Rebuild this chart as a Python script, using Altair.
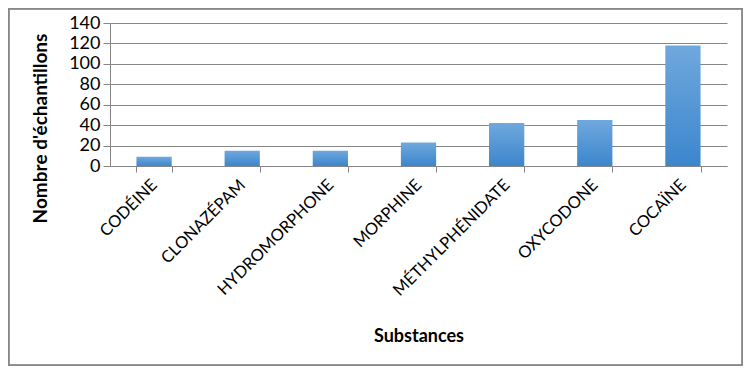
import altair as alt
import pandas as pd

substances = ["CODÉINE", "CLONAZÉPAM", "HYDROMORPHONE", "MORPHINE",
              "MÉTHYLPHÉNIDATE", "OXYCODONE", "COCAÏNE"]
counts = [9, 15, 15, 23, 42, 45, 118]

df = pd.DataFrame({"substance": substances, "n": counts})

FONT = "Lato"
GRID = "#868686"

grad = alt.Gradient(
    gradient="linear",
    stops=[alt.GradientStop(color="#6FA8DD", offset=0),
           alt.GradientStop(color="#3C86CD", offset=1)],
    x1=0, x2=0, y1=0, y2=1,
)

bars = alt.Chart(df).mark_bar(color=grad).encode(
    x=alt.X("substance:N", sort=substances,
            scale=alt.Scale(paddingInner=0.6, paddingOuter=0.3),
            axis=alt.Axis(title="Substances", labelAngle=-45, labelAlign="right",
                          labelBaseline="middle", labelPadding=10,
                          tickBand="extent", tickSize=6, tickColor=GRID,
                          domainColor=GRID, labelFont=FONT, labelFontSize=16.5,
                          labelColor="#000", titleFont=FONT, titleFontSize=18,
                          titleFontWeight="bold", titleColor="#000",
                          titleY=170, titleBaseline="middle", grid=False)),
    y=alt.Y("n:Q", scale=alt.Scale(domain=[0, 140], nice=False),
            axis=alt.Axis(title="Nombre d'échantillons", values=list(range(0, 141, 20)),
                          tickSize=7, tickColor=GRID, domainColor=GRID,
                          gridColor=GRID, labelFont=FONT, labelFontSize=18,
                          labelColor="#000", labelPadding=3,
                          titleFont=FONT, titleFontSize=19, titleFontWeight="bold",
                          titleColor="#000", titleX=-70, titleY=105,
                          titleAngle=270, titleBaseline="middle", titleAlign="center")),
)

frame = alt.Chart(df).mark_rect(fill=None, stroke="#888888", strokeWidth=1.5).encode(
    x=alt.value(-101.5), x2=alt.value(632.5), y=alt.value(-14.5), y2=alt.value(342.5)
)

chart = alt.layer(bars, frame).properties(
    width=617, height=143,
    autosize=alt.AutoSizeParams(type="none"),
    padding={"left": 102, "top": 15, "right": 16, "bottom": 200},
).configure_view(stroke=None)

chart.save("out.html", embed_options={"renderer": "svg", "actions": False})
